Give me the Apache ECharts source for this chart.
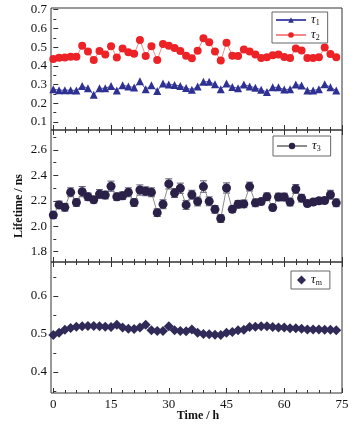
<!DOCTYPE html>
<html>
<head>
<meta charset="utf-8">
<script src="https://cdn.jsdelivr.net/npm/echarts@6/dist/echarts.min.js"></script>
<style>
  html, body { margin: 0; padding: 0; background: #fff; }
  #chart { width: 361px; height: 427px; }
</style>
</head>
<body>
<div id="chart"></div>
<script>
// time axis (h)
var hours = [0, 1.5, 3, 4.5, 6, 7.5, 9, 10.5, 12, 13.5, 15, 16.5, 18, 19.5, 21, 22.5, 24, 25.5, 27, 28.5,
  30, 31.5, 33, 34.5, 36, 37.5, 39, 40.5, 42, 43.5, 45, 46.5, 48, 49.5, 51, 52.5, 54, 55.5, 57, 58.5,
  60, 61.5, 63, 64.5, 66, 67.5, 69, 70.5, 72, 73.5]

// lifetimes / ns
var tau1 = [0.275, 0.270, 0.270, 0.270, 0.268, 0.292, 0.280, 0.245, 0.280, 0.280,
  0.292, 0.268, 0.296, 0.290, 0.284, 0.318, 0.275, 0.296, 0.266, 0.305,
  0.300, 0.298, 0.292, 0.282, 0.272, 0.290, 0.315, 0.315, 0.302, 0.275,
  0.305, 0.287, 0.280, 0.300, 0.290, 0.283, 0.272, 0.260, 0.285, 0.285,
  0.273, 0.275, 0.300, 0.295, 0.268, 0.268, 0.275, 0.302, 0.285, 0.268]
var tau2 = [0.437, 0.443, 0.444, 0.449, 0.448, 0.507, 0.477, 0.431, 0.479, 0.461,
  0.505, 0.444, 0.493, 0.472, 0.464, 0.538, 0.453, 0.505, 0.431, 0.517,
  0.507, 0.495, 0.479, 0.454, 0.440, 0.480, 0.547, 0.526, 0.477, 0.428,
  0.523, 0.454, 0.452, 0.487, 0.477, 0.460, 0.442, 0.446, 0.456, 0.460,
  0.447, 0.442, 0.493, 0.482, 0.442, 0.442, 0.446, 0.498, 0.463, 0.446]
var tau3 = [2.088, 2.168, 2.149, 2.267, 2.187, 2.272, 2.232, 2.208, 2.253, 2.245,
  2.315, 2.232, 2.240, 2.267, 2.187, 2.285, 2.275, 2.267, 2.107, 2.173,
  2.333, 2.261, 2.299, 2.168, 2.248, 2.195, 2.312, 2.196, 2.133, 2.061,
  2.301, 2.133, 2.173, 2.176, 2.312, 2.184, 2.194, 2.232, 2.147, 2.230,
  2.230, 2.190, 2.293, 2.221, 2.179, 2.190, 2.200, 2.203, 2.248, 2.184]
var tau3Err = [0.025, 0.030, 0.030, 0.035, 0.030, 0.040, 0.030, 0.025, 0.035, 0.030,
  0.040, 0.030, 0.030, 0.035, 0.030, 0.040, 0.035, 0.035, 0.030, 0.035,
  0.040, 0.035, 0.040, 0.035, 0.035, 0.035, 0.045, 0.035, 0.030, 0.030,
  0.040, 0.025, 0.030, 0.030, 0.035, 0.030, 0.025, 0.030, 0.025, 0.030,
  0.030, 0.030, 0.035, 0.030, 0.025, 0.025, 0.025, 0.025, 0.035, 0.030]
var tauM = [0.497, 0.503, 0.511, 0.516, 0.519, 0.520, 0.521, 0.521, 0.520, 0.519,
  0.518, 0.524, 0.517, 0.514, 0.513, 0.517, 0.524, 0.510, 0.508, 0.508,
  0.520, 0.510, 0.508, 0.507, 0.512, 0.503, 0.500, 0.499, 0.498, 0.497,
  0.503, 0.505, 0.510, 0.511, 0.518, 0.519, 0.520, 0.520, 0.518, 0.517,
  0.517, 0.515, 0.515, 0.514, 0.512, 0.512, 0.512, 0.511, 0.511, 0.510]

// tick labels
var xLabels = [0, 15, 30, 45, 60, 75]
var xMinor = [3, 6, 9, 12, 18, 21, 24, 27, 33, 36, 39, 42, 48, 51, 54, 57, 63, 66, 69, 72]
var y1Labels = [0.1, 0.2, 0.3, 0.4, 0.5, 0.6, 0.7]
var y1Minor = [0.15, 0.25, 0.35, 0.45, 0.55, 0.65]
var y2Labels = [1.8, 2.0, 2.2, 2.4, 2.6]
var y2Minor = [1.9, 2.1, 2.3, 2.5, 2.7]
var y3Labels = [0.4, 0.5, 0.6]
var y3Minor = [0.35, 0.45, 0.55, 0.65]

var serif = '"Liberation Serif", "Times New Roman", serif'
var subs = { tau1: '1', tau2: '2', tau3: '3', tauM: 'm' }

var grids = [
  { left: 51, right: 19, top: 8, height: 122 },
  { left: 51, right: 19, top: 130, height: 132 },
  { left: 51, right: 19, top: 262, height: 131 }
]
var yRanges = [[0.057, 0.709], [1.719, 2.757], [0.345, 0.689]]
var yLab = [y1Labels, y2Labels, y3Labels]
var yMin = [y1Minor, y2Minor, y3Minor]

var xAxes = []
var yAxes = []
grids.forEach(function (g, i) {
  g.show = true
  g.borderColor = '#333'
  g.borderWidth = 1
  var positions = i === 0 ? ['bottom'] : ['bottom', 'top']
  positions.forEach(function (pos) {
    [[xLabels, 5], [xMinor, 3]].forEach(function (t, k) {
      xAxes.push({
        type: 'value',
        gridIndex: i,
        position: pos,
        min: -0.6,
        max: 75,
        axisLine: { show: false },
        splitLine: { show: false },
        axisTick: { show: true, inside: true, length: t[1], customValues: t[0], lineStyle: { color: '#333' } },
        axisLabel: {
          show: i === 2 && pos === 'bottom' && k === 0,
          customValues: xLabels,
          margin: 5,
          color: '#111',
          fontFamily: serif,
          fontSize: 13
        }
      })
    })
  })
  ;[[yLab[i], 5], [yMin[i], 3]].forEach(function (t, k) {
    yAxes.push({
      type: 'value',
      gridIndex: i,
      position: 'left',
      min: yRanges[i][0],
      max: yRanges[i][1],
      axisLine: { show: false },
      splitLine: { show: false },
      axisTick: { show: true, inside: true, length: t[1], customValues: t[0], lineStyle: { color: '#333' } },
      axisLabel: {
        show: k === 0,
        customValues: yLab[i],
        margin: 4,
        color: '#111',
        fontFamily: serif,
        fontSize: 13,
        formatter: function (v) { return v.toFixed(1) }
      }
    })
  })
})

// x axis index of bottom major axis for each grid
var xIdx = [0, 2, 6]

function pairs (vals) {
  return hours.map(function (h, i) { return [h, vals[i]] })
}

var legendBase = {
  orient: 'vertical',
  backgroundColor: '#fff',
  borderColor: '#666',
  borderWidth: 1,
  borderRadius: 0,
  itemGap: 1,
  formatter: function (name) { return '{t|τ}{s|' + subs[name] + '}' },
  textStyle: {
    rich: {
      t: { fontFamily: serif, fontStyle: 'italic', fontSize: 13, color: '#111', lineHeight: 11 },
      s: { fontFamily: serif, fontSize: 8, color: '#111', padding: [6, 0, 0, 0], lineHeight: 11 }
    }
  }
}

var option = {
  animation: false,
  grid: grids,
  xAxis: xAxes,
  yAxis: yAxes,
  legend: [
    Object.assign({}, legendBase, {
      data: ['tau1', 'tau2'],
      left: 272, top: 12,
      padding: [1, 8, 1, 3],
      itemWidth: 30, itemHeight: 7
    }),
    Object.assign({}, legendBase, {
      data: ['tau3'],
      left: 273, top: 136,
      padding: [3, 10, 3, 3],
      itemWidth: 30, itemHeight: 8
    }),
    Object.assign({}, legendBase, {
      data: [{ name: 'tauM', icon: 'diamond' }],
      left: 291, top: 271,
      padding: [2, 8, 2, 6],
      itemWidth: 9, itemHeight: 9
    })
  ],
  graphic: [
    {
      type: 'text',
      x: 19, y: 206,
      rotation: Math.PI / 2,
      style: {
        text: 'Lifetime / ns',
        fontFamily: serif, fontWeight: 'bold', fontSize: 12, fill: '#111',
        align: 'center', verticalAlign: 'middle'
      }
    },
    {
      type: 'text',
      x: 198, y: 416,
      style: {
        text: 'Time / h',
        fontFamily: serif, fontWeight: 'bold', fontSize: 12, fill: '#111',
        align: 'center', verticalAlign: 'middle'
      }
    }
  ],
  series: [
    {
      name: 'tau1',
      type: 'line',
      xAxisIndex: xIdx[0], yAxisIndex: 0,
      data: pairs(tau1),
      symbol: 'triangle', symbolSize: 8,
      itemStyle: { color: '#2e3192' },
      lineStyle: { color: '#4b4fae', width: 1 }
    },
    {
      name: 'tau2',
      type: 'line',
      xAxisIndex: xIdx[0], yAxisIndex: 0,
      data: pairs(tau2),
      symbol: 'circle', symbolSize: 8,
      itemStyle: { color: '#ec2227' },
      lineStyle: { color: '#f28a8a', width: 1 }
    },
    {
      name: 'tau3err',
      type: 'custom',
      xAxisIndex: xIdx[1], yAxisIndex: 2,
      data: hours.map(function (h, i) { return [h, tau3[i], tau3Err[i]] }),
      z: 1,
      renderItem: function (params, api) {
        var x = api.value(0)
        var y = api.value(1)
        var e = api.value(2)
        var hi = api.coord([x, y + e])
        var lo = api.coord([x, y - e])
        var st = { stroke: '#5a5570', lineWidth: 1 }
        return {
          type: 'group',
          children: [
            { type: 'line', shape: { x1: hi[0], y1: hi[1], x2: lo[0], y2: lo[1] }, style: st },
            { type: 'line', shape: { x1: hi[0] - 3.5, y1: hi[1], x2: hi[0] + 3.5, y2: hi[1] }, style: st },
            { type: 'line', shape: { x1: lo[0] - 3.5, y1: lo[1], x2: lo[0] + 3.5, y2: lo[1] }, style: st }
          ]
        }
      }
    },
    {
      name: 'tau3',
      type: 'line',
      xAxisIndex: xIdx[1], yAxisIndex: 2,
      data: pairs(tau3),
      z: 3,
      symbol: 'circle', symbolSize: 9,
      itemStyle: { color: '#2b2148' },
      lineStyle: { color: '#8c8c8c', width: 1 }
    },
    {
      name: 'tauM',
      type: 'line',
      xAxisIndex: xIdx[2], yAxisIndex: 4,
      data: pairs(tauM),
      symbol: 'diamond', symbolSize: 10,
      itemStyle: { color: '#2f2a57' },
      lineStyle: { color: '#b6b2d6', width: 1 }
    }
  ]
}

var myChart = echarts.init(document.getElementById('chart'))
myChart.setOption(option)
</script>
</body>
</html>
